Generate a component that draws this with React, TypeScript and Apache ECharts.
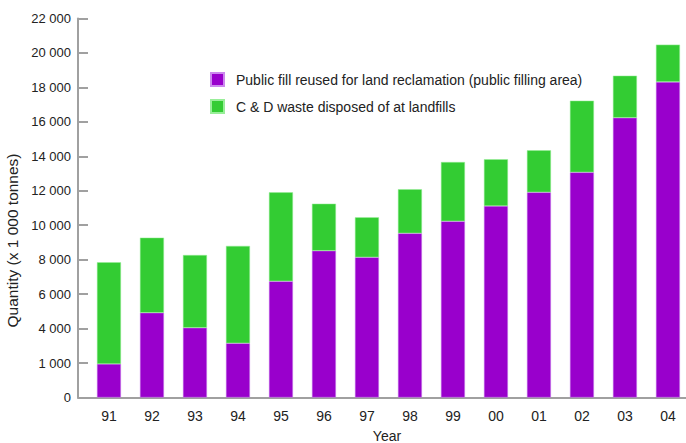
import React, { useEffect, useRef } from "react";
import * as echarts from "echarts";

const years = ["91", "92", "93", "94", "95", "96", "97", "98", "99", "00", "01", "02", "03", "04"];
const publicFill = [1950, 4920, 4050, 3150, 6750, 8520, 8140, 9530, 10230, 11120, 11910, 13070, 16240, 18320];
const landfill = [5900, 4360, 4220, 5650, 5160, 2730, 2320, 2560, 3440, 2710, 2440, 4160, 2440, 2160];
const yTickValues = [0, 2000, 4000, 6000, 8000, 10000, 12000, 14000, 16000, 18000, 20000, 22000];
const yTickLabels = ["0", "1 000", "4 000", "6 000", "8 000", "10 000", "12 000", "14 000", "16 000", "18 000", "20 000", "22 000"];
const seriesNames = [
  "Public fill reused for land reclamation (public filling area)",
  "C & D waste disposed of at landfills",
];

const FONT = "'Liberation Sans', Arial, Helvetica, sans-serif";

export default function App() {
  const ref = useRef<HTMLDivElement>(null);
  useEffect(() => {
    if (!ref.current) return;
    const chart = echarts.init(ref.current, undefined, { renderer: "svg" });
    chart.setOption({
      animation: false,
      backgroundColor: "#ffffff",
      grid: { left: 78, right: 0, top: 18.5, bottom: 45.5, containLabel: false, outerBoundsMode: "none" },
      legend: {
        orient: "vertical",
        left: 205,
        top: 67,
        itemWidth: 13,
        itemHeight: 13,
        itemGap: 12,
        icon: "rect",
        textStyle: { fontFamily: FONT, fontSize: 14, color: "#222", padding: [0, 0, 0, 7] },
        data: seriesNames,
      },
      xAxis: {
        type: "value",
        min: -0.72,
        max: 13.42,
        name: "Year",
        nameLocation: "middle",
        nameGap: 31,
        nameTextStyle: { fontFamily: FONT, fontSize: 14, color: "#222", padding: [0, 0, 0, 10] },
        splitLine: { show: false },
        axisTick: { show: false },
        axisLine: { show: true, onZero: false, lineStyle: { color: "#a0a0a0", width: 2 } },
        axisLabel: {
          customValues: years.map((_, i) => i),
          formatter: (v: number) => years[Math.round(v)] ?? "",
          fontFamily: FONT,
          fontSize: 14,
          color: "#222",
          margin: 11,
        },
      },
      yAxis: {
        type: "value",
        min: 0,
        max: 22000,
        interval: 2000,
        name: "Quantity (x 1 000 tonnes)",
        nameLocation: "middle",
        nameGap: 56,
        nameTextStyle: { fontFamily: FONT, fontSize: 15.5, color: "#222", padding: [0, 65, 0, 0] },
        splitLine: { show: false },
        axisLine: { show: true, onZero: false, lineStyle: { color: "#a0a0a0", width: 2 } },
        axisTick: { show: true, inside: true, length: 10, lineStyle: { color: "#a0a0a0", width: 2 } },
        axisLabel: {
          formatter: (v: number) => {
            const k = yTickValues.indexOf(v);
            return k >= 0 ? yTickLabels[k] : "";
          },
          fontFamily: FONT,
          fontSize: 13,
          color: "#222",
          margin: 7,
        },
      },
      series: [
        {
          name: seriesNames[0],
          type: "bar",
          stack: "total",
          barWidth: 24,
          encode: { x: 1, y: 0 },
          itemStyle: { color: "#9900cc", borderColor: "#cc88ee", borderWidth: 0.5 },
          data: publicFill.map((v, i) => [v, i]),
        },
        {
          name: seriesNames[1],
          type: "bar",
          stack: "total",
          barWidth: 24,
          encode: { x: 1, y: 0 },
          itemStyle: { color: "#33cc33", borderColor: "#99ee99", borderWidth: 0.5 },
          data: landfill.map((v, i) => [v, i]),
        },
      ],
    });
    return () => chart.dispose();
  }, []);
  return (
    <div
      ref={ref}
      style={{ position: "fixed", left: 0, top: 0, width: 686, height: 443 }}
    />
  );
}
